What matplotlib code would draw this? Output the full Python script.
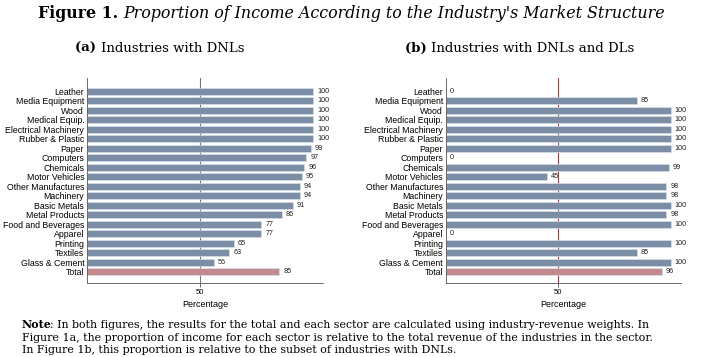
import matplotlib.pyplot as plt
import numpy as np

# data
sectors = ['Leather', 'Media Equipment', 'Wood', 'Medical Equip.', 'Electrical Machinery',
           'Rubber & Plastic', 'Paper', 'Computers', 'Chemicals', 'Motor Vehicles',
           'Other Manufactures', 'Machinery', 'Basic Metals', 'Metal Products',
           'Food and Beverages', 'Apparel', 'Printing', 'Textiles', 'Glass & Cement', 'Total']
share_dnl = [100, 100, 100, 100, 100, 100, 99, 97, 96, 95, 94, 94, 91, 86, 77, 77, 65, 63, 56, 85]
share_dnl_dl = [0, 85, 100, 100, 100, 100, 100, 0, 99, 45, 98, 98, 100, 98, 100, 0, 100, 85, 100, 96]
panel_titles = ['Industries with DNLs', 'Industries with DNLs and DLs']
panel_tags = ['(a)', '(b)']

bar_col = '#7b8ea6'
total_col = '#c28a8f'
sans = ['Liberation Sans', 'DejaVu Sans']
serif = ['DejaVu Serif']

fig = plt.figure(figsize=(7.01, 3.57), dpi=100)

def panel(rect, vals, ref_col):
    ax = fig.add_axes(rect)
    y = np.arange(len(sectors))
    cols = [bar_col] * (len(sectors) - 1) + [total_col]
    ax.barh(y, vals, height=0.72, color=cols, edgecolor='#dbe6ef', linewidth=0.4)
    for yi, v in zip(y, vals):
        ax.text(v + 1.8, yi, str(v), va='center', ha='left', fontsize=5.2, family=sans, color='#222222')
    ax.axvline(50, color=ref_col, lw=0.8, zorder=0)
    ax.set_xlim(0, 104.4)
    ax.set_ylim(len(sectors) - 1 + 1.2, -1.41)
    ax.set_yticks(y)
    ax.set_yticklabels(sectors, fontsize=6.3, family=sans)
    ax.tick_params(axis='y', length=0, pad=2)
    ax.set_xticks([50])
    ax.set_xticklabels(['50'], fontsize=5.5, family=sans)
    ax.tick_params(axis='x', length=3, width=0.6, color='#555555', pad=1.5)
    ax.set_xlabel('Percentage', fontsize=6.5, family=sans, labelpad=3)
    for s in ['top', 'right']:
        ax.spines[s].set_visible(False)
    for s in ['left', 'bottom']:
        ax.spines[s].set_linewidth(0.6)
        ax.spines[s].set_color('#555555')
    return ax

panel([0.124, 0.2073, 0.337, 0.5742], share_dnl, '#777777')
panel([0.636, 0.2073, 0.335, 0.5742], share_dnl_dl, '#a83a3a')

fig.canvas.draw()
r = fig.canvas.get_renderer()

def run(x0, ypx, parts, size, x_end=None, gap=0.0):
    # parts: list of (string, weight, style); placed one after another
    texts = []
    x = x0
    for s, w, st in parts:
        t = fig.text(x / 701, 1 - ypx / 357, s, fontsize=size, fontweight=w, style=st,
                     family=serif, va='center', ha='left')
        texts.append(t)
        x = t.get_window_extent(r).x1 + gap
    if x_end is not None:
        k = (x_end - x0) / (x - x0)
        for t in texts:
            t.remove()
        return run(x0, ypx, parts, size * k, gap=gap)
    return texts

# main title: bold label followed by italic text
run(38, 14, [('Figure 1. ', 'bold', 'normal'),
             ("Proportion of Income According to the Industry's Market Structure", 'normal', 'italic')],
    11.5, x_end=667)

# panel subtitles
run(75, 48, [('(a) ', 'bold', 'normal'), (panel_titles[0], 'normal', 'normal')], 10, x_end=245)
run(405, 48, [('(b) ', 'bold', 'normal'), (panel_titles[1], 'normal', 'normal')], 10, x_end=635)

# note under the figure
note_lines = [
    ': In both figures, the results for the total and each sector are calculated using industry-revenue weights. In',
    'Figure 1a, the proportion of income for each sector is relative to the total revenue of the industries in the sector.',
    'In Figure 1b, this proportion is relative to the subset of industries with DNLs.',
]
t2 = run(22, 338, [(note_lines[1], 'normal', 'normal')], 8, x_end=655)
nsize = t2[0].get_fontsize()
run(22, 325, [('Note', 'bold', 'normal'), (note_lines[0], 'normal', 'normal')], nsize, gap=-2)
run(22, 350, [(note_lines[2], 'normal', 'normal')], nsize)

fig.savefig('out.png', dpi=100)
